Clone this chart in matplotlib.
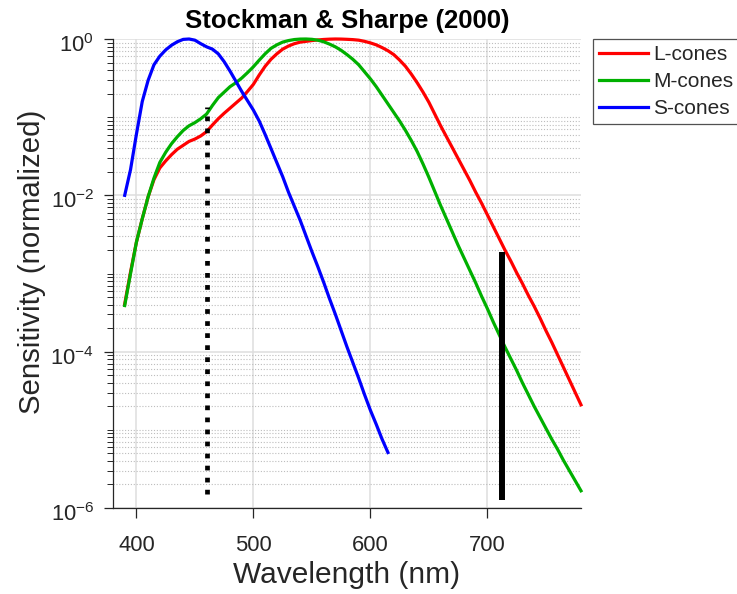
import numpy as np
import matplotlib
matplotlib.use("Agg")
import matplotlib.pyplot as plt
import matplotlib.transforms as mtransforms
from matplotlib.ticker import FixedLocator, FuncFormatter, NullLocator

plt.rcParams['font.family'] = ['Liberation Sans', 'DejaVu Sans']
plt.rcParams['mathtext.fontset'] = 'custom'
plt.rcParams['mathtext.rm'] = 'Liberation Sans'
plt.rcParams['mathtext.it'] = 'Liberation Sans:italic'
plt.rcParams['mathtext.bf'] = 'Liberation Sans:bold'

# wavelength grids (nm)
wl_lm = np.arange(390, 781, 5)
wl_s = np.arange(390, 616, 5)

# log10 normalized cone sensitivities
log_L = [
    -3.39, -2.98, -2.60, -2.30, -2.02, -1.80, -1.65, -1.56, -1.48, -1.41,
    -1.36, -1.31, -1.28, -1.24, -1.185, -1.10, -1.02, -0.95, -0.885, -0.82,
    -0.755, -0.67, -0.58, -0.46, -0.35, -0.26, -0.19, -0.13, -0.09, -0.06,
    -0.04, -0.03, -0.02, -0.012, -0.006, -0.002, 0.0, -0.001, -0.004, -0.008,
    -0.015, -0.03, -0.05, -0.075, -0.11, -0.15, -0.20, -0.27, -0.35, -0.45,
    -0.56, -0.68, -0.81, -0.96, -1.11, -1.25, -1.39, -1.53, -1.67, -1.81,
    -1.96, -2.10, -2.25, -2.40, -2.55, -2.70, -2.84, -2.99, -3.13, -3.28,
    -3.42, -3.57, -3.73, -3.88, -4.04, -4.20, -4.36, -4.52, -4.68,
]
log_M = [
    -3.41, -3.00, -2.60, -2.30, -2.02, -1.78, -1.58, -1.45, -1.34, -1.25,
    -1.17, -1.11, -1.07, -1.02, -0.96, -0.85, -0.75, -0.68, -0.61, -0.56,
    -0.50, -0.43, -0.355, -0.27, -0.19, -0.12, -0.075, -0.04, -0.02, -0.007,
    -0.001, 0.0, -0.004, -0.015, -0.035, -0.065, -0.10, -0.145, -0.20, -0.26,
    -0.33, -0.42, -0.51, -0.61, -0.72, -0.83, -0.94, -1.05, -1.17, -1.30,
    -1.44, -1.60, -1.77, -1.95, -2.13, -2.30, -2.47, -2.64, -2.80, -2.96,
    -3.12, -3.29, -3.45, -3.62, -3.78, -3.94, -4.09, -4.24, -4.40, -4.55,
    -4.70, -4.84, -4.98, -5.12, -5.25, -5.39, -5.52, -5.65, -5.78,
]
log_S = [
    -2.00, -1.67, -1.22, -0.80, -0.53, -0.33, -0.22, -0.14, -0.08, -0.035,
    -0.005, 0.0, -0.015, -0.06, -0.10, -0.13, -0.19, -0.29, -0.41, -0.54,
    -0.67, -0.79, -0.91, -1.05, -1.22, -1.40, -1.58, -1.76, -1.96, -2.14,
    -2.32, -2.52, -2.72, -2.91, -3.11, -3.32, -3.52, -3.73, -3.94, -4.14,
    -4.34, -4.55, -4.75, -4.93, -5.12, -5.29,
]

series_names = ['L-cones', 'M-cones', 'S-cones']
series_colors = ['#ff0000', '#00b000', '#0000ff']

# reference wavelength markers: (wavelength, bottom, top)
marker_short = (460.0, 1.5e-6, 0.135)
marker_long = (712.5, 1.25e-6, 1.9e-3)

x_ticks = [400, 500, 600, 700]
y_major = [1e-6, 1e-4, 1e-2, 1e0]

W, H = 737, 594
fig = plt.figure(figsize=(W / 100, H / 100), dpi=100)
ax = fig.add_axes([113 / W, 1 - 508 / H, 468 / W, 469 / H])

ink = '#262626'

ax.set_yscale('log')
ax.set_xlim(380, 780)
ax.set_ylim(1e-6, 1)

# ticks and grid
y_minor = [k * 10.0 ** e for e in range(-6, 0) for k in range(1, 10)
           if k * 10.0 ** e not in y_major]
ax.xaxis.set_major_locator(FixedLocator(x_ticks))
ax.xaxis.set_minor_locator(NullLocator())
ax.yaxis.set_major_locator(FixedLocator(y_major))
ax.yaxis.set_minor_locator(FixedLocator(y_minor))
ax.yaxis.set_major_formatter(FuncFormatter(
    lambda v, p: r'$\mathregular{10^{%d}}$' % int(round(np.log10(v)))))
ax.yaxis.set_minor_formatter(FuncFormatter(lambda v, p: ''))
ax.set_axisbelow(True)
ax.grid(True, which='major', axis='both', color='#dedede', lw=1.1, ls='-')
ax.grid(True, which='minor', axis='y', color='#bdbdbd', lw=0.8, ls=(0, (1, 1.6)))

for s in ['top', 'right']:
    ax.spines[s].set_visible(False)
for s in ['left', 'bottom']:
    ax.spines[s].set_color(ink)
    ax.spines[s].set_linewidth(0.9)

ax.tick_params(axis='x', which='major', direction='out', length=7.2, width=0.9,
               color=ink, labelcolor=ink, labelsize=15.8, pad=12)
ax.tick_params(axis='y', which='major', direction='out', length=6.6, width=0.9,
               color=ink, labelcolor=ink, labelsize=15.8, pad=7)
ax.tick_params(axis='y', which='minor', direction='out', length=4.3, width=0.7,
               color=ink)

# nudge the power-of-ten labels slightly downward
shift = mtransforms.ScaledTranslation(0, -4 / 100, fig.dpi_scale_trans)
for lbl in ax.get_yticklabels():
    lbl.set_transform(lbl.get_transform() + shift)

# cone curves
for wl, logs, name, col in zip([wl_lm, wl_lm, wl_s], [log_L, log_M, log_S],
                               series_names, series_colors):
    ax.plot(wl, 10.0 ** np.asarray(logs), color=col, lw=2.3, label=name,
            clip_on=False, zorder=3, solid_joinstyle='round')

# vertical markers
ax.plot([marker_short[0]] * 2, marker_short[1:], color='black', lw=3.4,
        ls=(0, (1, 1.55)), dash_capstyle='butt', zorder=4)
ax.plot([marker_long[0]] * 2, marker_long[1:], color='black', lw=4.3,
        solid_capstyle='butt', zorder=4)

ax.set_title('Stockman & Sharpe (2000)', fontsize=18.5, fontweight='bold',
             color='black', pad=8)
ax.set_xlabel('Wavelength (nm)', fontsize=21.5, color=ink)
ax.set_ylabel('Sensitivity (normalized)', fontsize=21.2, color=ink)
ax.xaxis.set_label_coords(0.5, -0.113)
ax.yaxis.set_label_coords(-0.143, 0.5245)

leg = ax.legend(loc='upper left', bbox_to_anchor=(593 / W, 1 - 39 / H),
                bbox_transform=fig.transFigure, borderaxespad=0,
                fontsize=15, frameon=True, fancybox=False, handlelength=2.36,
                handletextpad=0.24, labelspacing=0.38, borderpad=0.3)
leg.get_frame().set_edgecolor(ink)
leg.get_frame().set_linewidth(0.9)
for t in leg.get_texts():
    t.set_color(ink)

fig.savefig('out.png', dpi=100)
